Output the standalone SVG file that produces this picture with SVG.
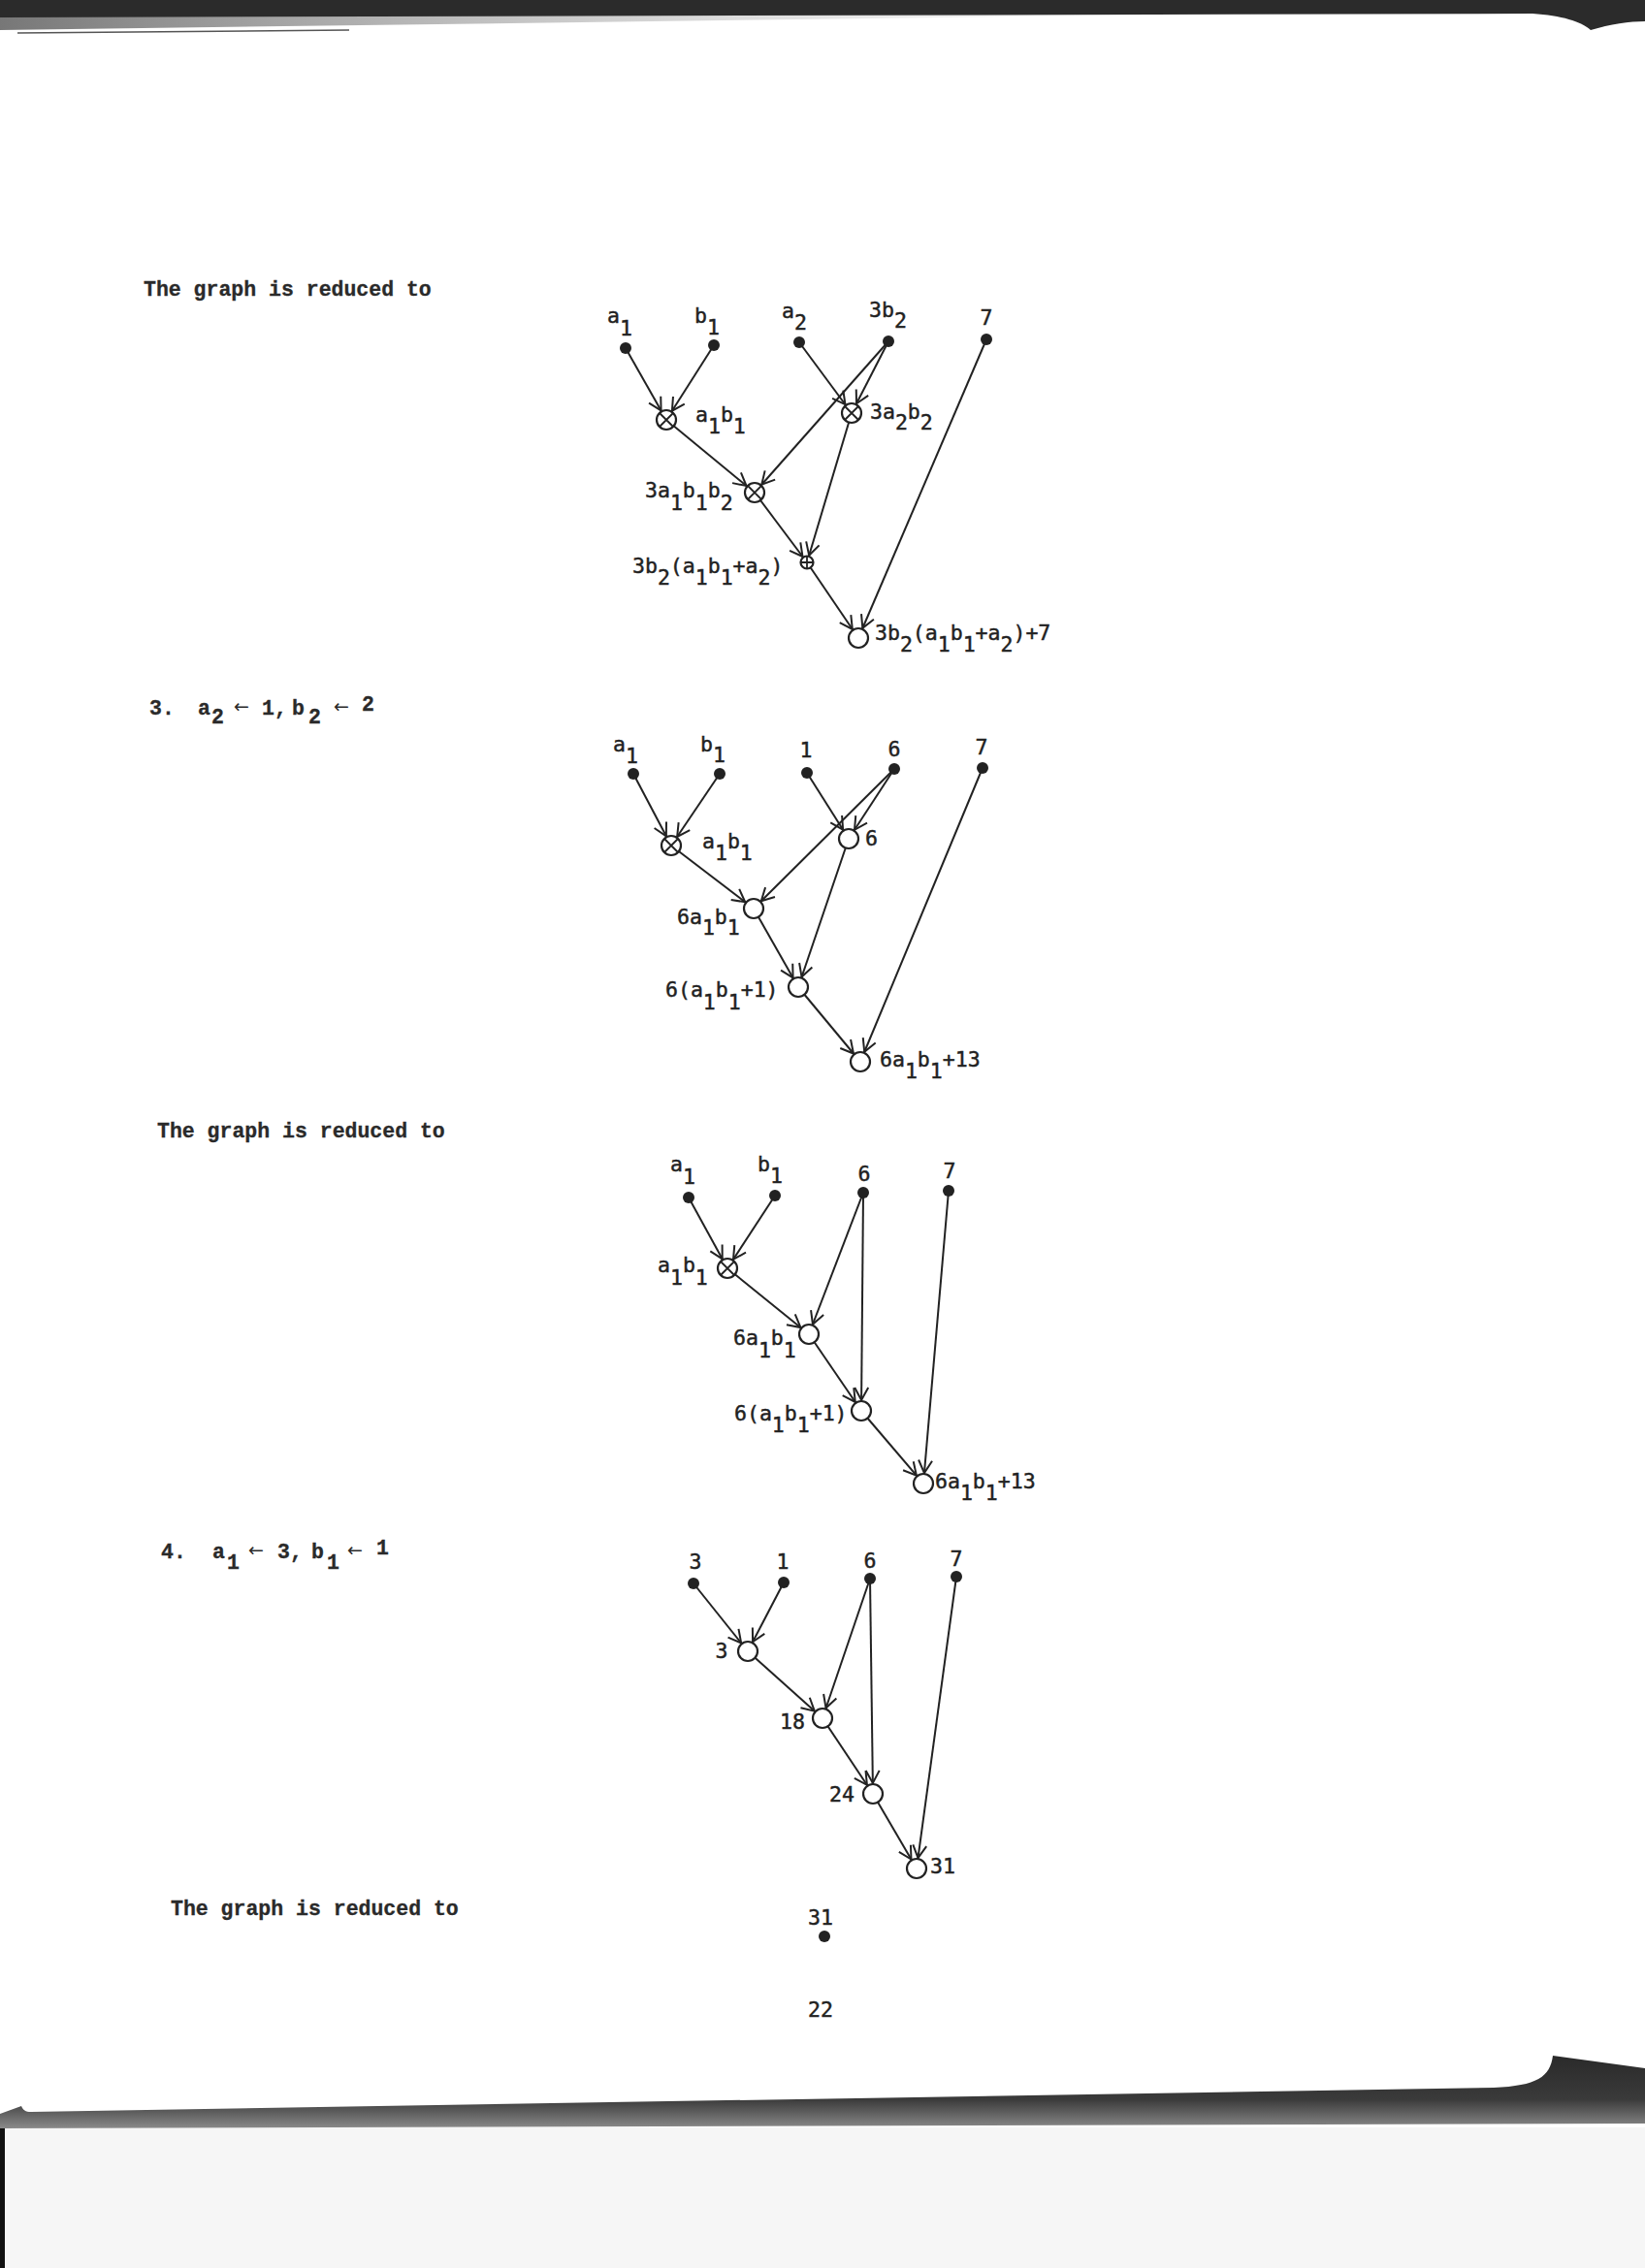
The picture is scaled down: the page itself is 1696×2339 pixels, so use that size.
<svg xmlns="http://www.w3.org/2000/svg" width="1696" height="2339" viewBox="0 0 1696 2339">
<style>
.tw{font-family:"Liberation Mono","DejaVu Sans Mono",monospace;font-weight:bold;font-size:21.5px;fill:#2a2a2a;stroke:#2a2a2a;stroke-width:0.3}
.ar{font-family:"DejaVu Sans",sans-serif;font-weight:normal;font-size:19px;stroke:none}
.lb{font-family:"DejaVu Sans Mono","Liberation Mono",monospace;font-size:21.5px;fill:#222;stroke:#222;stroke-width:0.45}
.ct{text-anchor:middle}
.edges line{stroke:#222;stroke-width:2;marker-end:url(#ah)}
.edges line.e7{marker-end:url(#ah7)}
.dot{fill:#222}
.nd{fill:#fff;stroke:#222;stroke-width:2.2}
.x{stroke:#222;stroke-width:1.8}
</style>
<defs>
<marker id="ah" viewBox="-26 -9 28 18" markerWidth="28" markerHeight="18" refX="0" refY="0" orient="auto" markerUnits="userSpaceOnUse" overflow="visible">
<path d="M-24,-7 L-11,0 L-24,7" fill="none" stroke="#222" stroke-width="2"/>
</marker>
<marker id="ah7" viewBox="-26 -9 28 18" markerWidth="28" markerHeight="18" refX="0" refY="0" orient="auto" markerUnits="userSpaceOnUse" overflow="visible">
<path d="M-20.5,-7 L-7.5,0 L-20.5,7" fill="none" stroke="#222" stroke-width="2"/>
</marker>
<linearGradient id="btm" x1="0" y1="0" x2="0" y2="1">
<stop offset="0" stop-color="#2a2a2a"/>
<stop offset="0.6" stop-color="#3a3a3a"/>
<stop offset="1" stop-color="#8a8a8a"/>
</linearGradient>
<linearGradient id="topfz" x1="0" y1="0" x2="1" y2="0">
<stop offset="0" stop-color="#777"/>
<stop offset="1" stop-color="#bbb" stop-opacity="0"/>
</linearGradient>
</defs>

<!-- page -->
<rect x="0" y="0" width="1696" height="2339" fill="#fff"/>
<g id="page-edges">
<path d="M0,17 L700,15 L1200,15 L0,31 Z" fill="url(#topfz)"/>
<path d="M0,0 H1696 V22 C1680,22 1660,25 1640,31 C1630,22 1610,16 1580,14 L0,18 Z" fill="#2b2b2b"/>
<line x1="18" y1="34" x2="360" y2="31" stroke="#555" stroke-width="1.5"/>
<rect x="0" y="2194" width="1696" height="145" fill="#f6f6f6"/>
<path d="M22,2172 C24,2176 26,2178 32,2178 L1540,2153 C1585,2151 1598,2142 1601,2120 L1696,2133 L1696,2190 L0,2195 L0,2180 Z" fill="url(#btm)"/>
<rect x="0" y="2195" width="5" height="144" fill="#111"/>
</g>

<!-- typewritten text -->
<text class="tw" x="148" y="305">The graph is reduced to</text>
<g id="step3" class="tw">
<text x="154" y="737">3.</text>
<text x="204" y="737">a</text>
<text x="218" y="746">2</text>
<text class="ar" x="241" y="735">←</text>
<text x="270" y="737">1,</text>
<text x="301" y="737">b</text>
<text x="318" y="746">2</text>
<text class="ar" x="344" y="735">←</text>
<text x="373" y="733">2</text>
</g>
<text class="tw" x="162" y="1173">The graph is reduced to</text>
<g id="step4" class="tw">
<text x="166" y="1607">4.</text>
<text x="219" y="1607">a</text>
<text x="234" y="1618">1</text>
<text class="ar" x="256" y="1605">←</text>
<text x="286" y="1607">3,</text>
<text x="321" y="1607">b</text>
<text x="337" y="1618">1</text>
<text class="ar" x="358" y="1605">←</text>
<text x="388" y="1603">1</text>
</g>
<text class="tw" x="176" y="1975">The graph is reduced to</text>

<!-- ============ Graph 1 ============ -->
<g id="g1-connectors" class="edges">
<line x1="645" y1="359" x2="687" y2="433"/>
<line x1="736" y1="356" x2="687" y2="433"/>
<line x1="824" y1="353" x2="878" y2="426"/>
<line x1="916" y1="352" x2="878" y2="426"/>
<line x1="916" y1="352" x2="778" y2="508"/>
<line x1="687" y1="433" x2="778" y2="508"/>
<line class="e7" x1="878" y1="426" x2="832" y2="580"/>
<line class="e7" x1="778" y1="508" x2="832" y2="580"/>
<line x1="832" y1="580" x2="885" y2="658"/>
<line x1="1017" y1="350" x2="885" y2="658"/>
</g>
<g id="g1-a1"><circle class="dot" cx="645" cy="359" r="6"/><text class="lb" x="626" y="333">a<tspan dy="13">1</tspan></text></g>
<g id="g1-b1"><circle class="dot" cx="736" cy="356" r="6"/><text class="lb" x="716" y="333">b<tspan dy="12">1</tspan></text></g>
<g id="g1-a2"><circle class="dot" cx="824" cy="353" r="6"/><text class="lb" x="806" y="328">a<tspan dy="12">2</tspan></text></g>
<g id="g1-3b2"><circle class="dot" cx="916" cy="352" r="6"/><text class="lb" x="896" y="327">3b<tspan dy="11">2</tspan></text></g>
<g id="g1-7"><circle class="dot" cx="1017" cy="350" r="6"/><text class="lb ct" x="1017" y="335">7</text></g>
<g id="g1-a1b1"><circle class="nd" cx="687" cy="433" r="10"/><path class="x" d="M680,426 L694,440 M694,426 L680,440"/>
<text class="lb" x="717" y="435">a<tspan dy="12">1</tspan><tspan dy="-12">b</tspan><tspan dy="12">1</tspan></text></g>
<g id="g1-3a2b2"><circle class="nd" cx="878" cy="426" r="10"/><path class="x" d="M871,419 L885,433 M885,419 L871,433"/>
<text class="lb" x="897" y="432">3a<tspan dy="11">2</tspan><tspan dy="-11">b</tspan><tspan dy="11">2</tspan></text></g>
<g id="g1-3a1b1b2"><circle class="nd" cx="778" cy="508" r="10"/><path class="x" d="M771,501 L785,515 M785,501 L771,515"/>
<text class="lb" x="665" y="513">3a<tspan dy="13">1</tspan><tspan dy="-13">b</tspan><tspan dy="13">1</tspan><tspan dy="-13">b</tspan><tspan dy="13">2</tspan></text></g>
<g id="g1-sum"><circle class="nd" cx="832" cy="580" r="6.5"/><path class="x" d="M832,573.5 V586.5 M825.5,580 H838.5"/>
<text class="lb" x="652" y="591">3b<tspan dy="12">2</tspan><tspan dy="-12">(a</tspan><tspan dy="12">1</tspan><tspan dy="-12">b</tspan><tspan dy="12">1</tspan><tspan dy="-12">+a</tspan><tspan dy="12">2</tspan><tspan dy="-12">)</tspan></text></g>
<g id="g1-final"><circle class="nd" cx="885" cy="658" r="10"/>
<text class="lb" x="902" y="660">3b<tspan dy="12">2</tspan><tspan dy="-12">(a</tspan><tspan dy="12">1</tspan><tspan dy="-12">b</tspan><tspan dy="12">1</tspan><tspan dy="-12">+a</tspan><tspan dy="12">2</tspan><tspan dy="-12">)+7</tspan></text></g>

<!-- ============ Graph 2 ============ -->
<g id="g2-connectors" class="edges">
<line x1="653" y1="798" x2="692" y2="872"/>
<line x1="742" y1="798" x2="692" y2="872"/>
<line x1="832" y1="797" x2="875" y2="865"/>
<line x1="922" y1="793" x2="875" y2="865"/>
<line x1="922" y1="793" x2="777" y2="937"/>
<line x1="692" y1="872" x2="777" y2="937"/>
<line x1="875" y1="865" x2="823" y2="1018"/>
<line x1="777" y1="937" x2="823" y2="1018"/>
<line x1="823" y1="1018" x2="887" y2="1095"/>
<line x1="1013" y1="792" x2="887" y2="1095"/>
</g>
<g id="g2-a1"><circle class="dot" cx="653" cy="798" r="6"/><text class="lb" x="632" y="775">a<tspan dy="12">1</tspan></text></g>
<g id="g2-b1"><circle class="dot" cx="742" cy="798" r="6"/><text class="lb" x="722" y="775">b<tspan dy="11">1</tspan></text></g>
<g id="g2-1"><circle class="dot" cx="832" cy="797" r="6"/><text class="lb ct" x="831" y="781">1</text></g>
<g id="g2-6"><circle class="dot" cx="922" cy="793" r="6"/><text class="lb ct" x="922" y="780">6</text></g>
<g id="g2-7"><circle class="dot" cx="1013" cy="792" r="6"/><text class="lb ct" x="1012" y="778">7</text></g>
<g id="g2-a1b1"><circle class="nd" cx="692" cy="872" r="10"/><path class="x" d="M685,865 L699,879 M699,865 L685,879"/>
<text class="lb" x="724" y="875">a<tspan dy="12">1</tspan><tspan dy="-12">b</tspan><tspan dy="12">1</tspan></text></g>
<g id="g2-n6"><circle class="nd" cx="875" cy="865" r="10"/><text class="lb" x="892" y="872">6</text></g>
<g id="g2-6a1b1"><circle class="nd" cx="777" cy="937" r="10"/>
<text class="lb" x="698" y="953">6a<tspan dy="11">1</tspan><tspan dy="-11">b</tspan><tspan dy="11">1</tspan></text></g>
<g id="g2-6p"><circle class="nd" cx="823" cy="1018" r="10"/>
<text class="lb" x="686" y="1028">6(a<tspan dy="13">1</tspan><tspan dy="-13">b</tspan><tspan dy="13">1</tspan><tspan dy="-13">+1)</tspan></text></g>
<g id="g2-final"><circle class="nd" cx="887" cy="1095" r="10"/>
<text class="lb" x="907" y="1100">6a<tspan dy="12">1</tspan><tspan dy="-12">b</tspan><tspan dy="12">1</tspan><tspan dy="-12">+13</tspan></text></g>

<!-- ============ Graph 3 ============ -->
<g id="g3-connectors" class="edges">
<line x1="710" y1="1235" x2="750" y2="1308"/>
<line x1="799" y1="1233" x2="750" y2="1308"/>
<line x1="890" y1="1230" x2="834" y2="1376"/>
<line x1="890" y1="1230" x2="888" y2="1455"/>
<line x1="750" y1="1308" x2="834" y2="1376"/>
<line x1="834" y1="1376" x2="888" y2="1455"/>
<line x1="888" y1="1455" x2="952" y2="1530"/>
<line x1="978" y1="1228" x2="952" y2="1530"/>
</g>
<g id="g3-a1"><circle class="dot" cx="710" cy="1235" r="6"/><text class="lb" x="691" y="1208">a<tspan dy="13">1</tspan></text></g>
<g id="g3-b1"><circle class="dot" cx="799" cy="1233" r="6"/><text class="lb" x="781" y="1208">b<tspan dy="12">1</tspan></text></g>
<g id="g3-6"><circle class="dot" cx="890" cy="1230" r="6"/><text class="lb ct" x="891" y="1218">6</text></g>
<g id="g3-7"><circle class="dot" cx="978" cy="1228" r="6"/><text class="lb ct" x="979" y="1215">7</text></g>
<g id="g3-a1b1"><circle class="nd" cx="750" cy="1308" r="10"/><path class="x" d="M743,1301 L757,1315 M757,1301 L743,1315"/>
<text class="lb" x="678" y="1312">a<tspan dy="13">1</tspan><tspan dy="-13">b</tspan><tspan dy="13">1</tspan></text></g>
<g id="g3-6a1b1"><circle class="nd" cx="834" cy="1376" r="10"/>
<text class="lb" x="756" y="1387">6a<tspan dy="13">1</tspan><tspan dy="-13">b</tspan><tspan dy="13">1</tspan></text></g>
<g id="g3-6p"><circle class="nd" cx="888" cy="1455" r="10"/>
<text class="lb" x="757" y="1465">6(a<tspan dy="12">1</tspan><tspan dy="-12">b</tspan><tspan dy="12">1</tspan><tspan dy="-12">+1)</tspan></text></g>
<g id="g3-final"><circle class="nd" cx="952" cy="1530" r="10"/>
<text class="lb" x="964" y="1535">6a<tspan dy="12">1</tspan><tspan dy="-12">b</tspan><tspan dy="12">1</tspan><tspan dy="-12">+13</tspan></text></g>

<!-- ============ Graph 4 ============ -->
<g id="g4-connectors" class="edges">
<line x1="715" y1="1633" x2="771" y2="1703"/>
<line x1="808" y1="1632" x2="771" y2="1703"/>
<line x1="771" y1="1703" x2="848" y2="1772"/>
<line x1="897" y1="1628" x2="848" y2="1772"/>
<line x1="897" y1="1628" x2="900" y2="1850"/>
<line x1="848" y1="1772" x2="900" y2="1850"/>
<line x1="900" y1="1850" x2="945" y2="1927"/>
<line x1="986" y1="1626" x2="945" y2="1927"/>
</g>
<g id="g4-3"><circle class="dot" cx="715" cy="1633" r="6"/><text class="lb ct" x="717" y="1618">3</text></g>
<g id="g4-1"><circle class="dot" cx="808" cy="1632" r="6"/><text class="lb ct" x="807" y="1618">1</text></g>
<g id="g4-6"><circle class="dot" cx="897" cy="1628" r="6"/><text class="lb ct" x="897" y="1617">6</text></g>
<g id="g4-7"><circle class="dot" cx="986" cy="1626" r="6"/><text class="lb ct" x="986" y="1615">7</text></g>
<g id="g4-n3"><circle class="nd" cx="771" cy="1703" r="10"/><text class="lb ct" x="744" y="1710">3</text></g>
<g id="g4-n18"><circle class="nd" cx="848" cy="1772" r="10"/><text class="lb ct" x="817" y="1783">18</text></g>
<g id="g4-n24"><circle class="nd" cx="900" cy="1850" r="10"/><text class="lb ct" x="868" y="1858">24</text></g>
<g id="g4-n31"><circle class="nd" cx="945" cy="1927" r="10"/><text class="lb" x="959" y="1932">31</text></g>

<!-- final result -->
<g id="g5-31"><text class="lb ct" x="846" y="1985">31</text><circle class="dot" cx="850" cy="1997" r="6"/></g>
<text class="lb ct" x="846" y="2080">22</text>
</svg>
